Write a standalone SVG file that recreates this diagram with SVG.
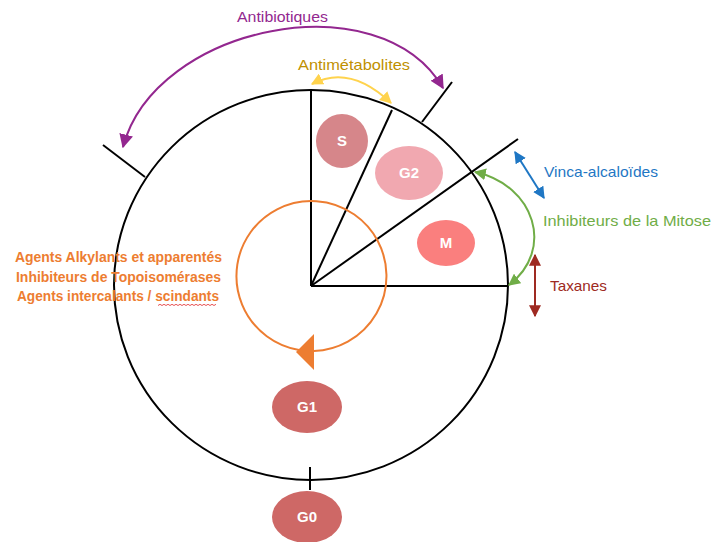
<svg xmlns="http://www.w3.org/2000/svg" width="713" height="542" viewBox="0 0 713 542">
<style>
.ln{fill:none;stroke:#000;stroke-width:2}
.t{font-family:"Liberation Sans",Arial,sans-serif;font-size:15px}
.lbl{font-family:"Liberation Sans",Arial,sans-serif;font-size:15px;font-weight:bold;fill:#fff;text-anchor:middle}
.ag{font-family:"Liberation Sans",Arial,sans-serif;font-size:14.5px;font-weight:bold;fill:#ED7D31}
</style>
<defs>
<marker id="mP" viewBox="0 0 10 10" refX="9" refY="5" markerWidth="14" markerHeight="14" markerUnits="userSpaceOnUse" orient="auto-start-reverse"><path d="M0,0L10,5L0,10z" fill="#93278F"/></marker>
<marker id="mY" viewBox="0 0 10 10" refX="9" refY="5" markerWidth="12" markerHeight="12" markerUnits="userSpaceOnUse" orient="auto-start-reverse"><path d="M0,0L10,5L0,10z" fill="#FFD34D"/></marker>
<marker id="mB" viewBox="0 0 10 10" refX="9" refY="5" markerWidth="12" markerHeight="12" markerUnits="userSpaceOnUse" orient="auto-start-reverse"><path d="M0,0L10,5L0,10z" fill="#1F77C4"/></marker>
<marker id="mG" viewBox="0 0 10 10" refX="9" refY="5" markerWidth="12" markerHeight="12" markerUnits="userSpaceOnUse" orient="auto-start-reverse"><path d="M0,0L10,5L0,10z" fill="#70AD47"/></marker>
<marker id="mR" viewBox="0 0 10 10" refX="9" refY="5" markerWidth="12" markerHeight="12" markerUnits="userSpaceOnUse" orient="auto-start-reverse"><path d="M0,0L10,5L0,10z" fill="#9E2A22"/></marker>
</defs>

<g id="cycle">
<ellipse class="ln" cx="311" cy="285" rx="197" ry="195"/>
<line class="ln" x1="311" y1="286" x2="311" y2="90"/>
<line class="ln" x1="311" y1="286" x2="392" y2="110"/>
<line class="ln" x1="311" y1="286" x2="518" y2="139"/>
<line class="ln" x1="311" y1="286" x2="508" y2="286"/>
<line class="ln" x1="422" y1="122" x2="452" y2="82"/>
<line class="ln" x1="145" y1="177" x2="103" y2="145"/>
<line class="ln" x1="310" y1="467" x2="310" y2="490" stroke-width="3"/>
</g>

<g id="connectors">
<path d="M123,147 C155,25 380,-20 443,88" fill="none" stroke="#93278F" stroke-width="2" marker-start="url(#mP)" marker-end="url(#mP)"/>
<path d="M312,84 Q350,64 391,103" fill="none" stroke="#FFD34D" stroke-width="2" marker-start="url(#mY)" marker-end="url(#mY)"/>
<line x1="515" y1="152" x2="544" y2="198" stroke="#1F77C4" stroke-width="2" marker-start="url(#mB)" marker-end="url(#mB)"/>
<path d="M475,172 C535,185 555,250 509,285" fill="none" stroke="#70AD47" stroke-width="2" marker-start="url(#mG)" marker-end="url(#mG)"/>
<line x1="535" y1="255" x2="535" y2="316" stroke="#9E2A22" stroke-width="2" marker-start="url(#mR)" marker-end="url(#mR)"/>
<path d="M299,350 A75,75 0 1 1 314,351" fill="none" stroke="#ED7D31" stroke-width="2"/>
<polygon points="296,352 314,334 314,370" fill="#ED7D31"/>
</g>

<g id="S"><ellipse cx="342" cy="141" rx="26" ry="27" fill="#D6868A"/><text class="lbl" x="342" y="146">S</text></g>
<g id="G2"><ellipse cx="409" cy="173" rx="34" ry="27" fill="#F1A8B0"/><text class="lbl" x="409" y="178">G2</text></g>
<g id="M"><ellipse cx="446" cy="243" rx="29" ry="23" fill="#FA7F7E"/><text class="lbl" x="446" y="248">M</text></g>
<g id="G1"><ellipse cx="307" cy="407" rx="35" ry="26" fill="#CE6866"/><text class="lbl" x="307" y="412">G1</text></g>
<g id="G0"><ellipse cx="307" cy="517" rx="35" ry="26" fill="#CE6866"/><text class="lbl" x="307" y="522">G0</text></g>

<g id="labels">
<text class="t" x="237" y="22" fill="#93278F" textLength="91" lengthAdjust="spacingAndGlyphs">Antibiotiques</text>
<text class="t" x="298" y="70" fill="#BF9000" textLength="112" lengthAdjust="spacingAndGlyphs">Antimétabolites</text>
<text class="t" x="544" y="177" fill="#1F77C4" textLength="114" lengthAdjust="spacingAndGlyphs">Vinca-alcaloïdes</text>
<text class="t" x="543" y="226" fill="#70AD47" textLength="168" lengthAdjust="spacingAndGlyphs">Inhibiteurs  de la Mitose</text>
<text class="t" x="550" y="291" fill="#9E2A22" textLength="57" lengthAdjust="spacingAndGlyphs">Taxanes</text>
<text class="ag" x="15" y="262" textLength="207" lengthAdjust="spacingAndGlyphs">Agents  Alkylants et apparentés</text>
<text class="ag" x="16" y="282" textLength="205" lengthAdjust="spacingAndGlyphs">Inhibiteurs de  Topoisomérases</text>
<text class="ag" x="17" y="301" textLength="202" lengthAdjust="spacingAndGlyphs">Agents intercalants / scindants</text>
<path d="M158,305.5 l2,-1.2 2,1.2 2,-1.2 2,1.2 2,-1.2 2,1.2 2,-1.2 2,1.2 2,-1.2 2,1.2 2,-1.2 2,1.2 2,-1.2 2,1.2 2,-1.2 2,1.2 2,-1.2 2,1.2 2,-1.2 2,1.2 2,-1.2 2,1.2 2,-1.2 2,1.2 2,-1.2 2,1.2 2,-1.2 2,1.2 2,-1.2" fill="none" stroke="#E0282A" stroke-width="0.8"/>
</g>
</svg>
